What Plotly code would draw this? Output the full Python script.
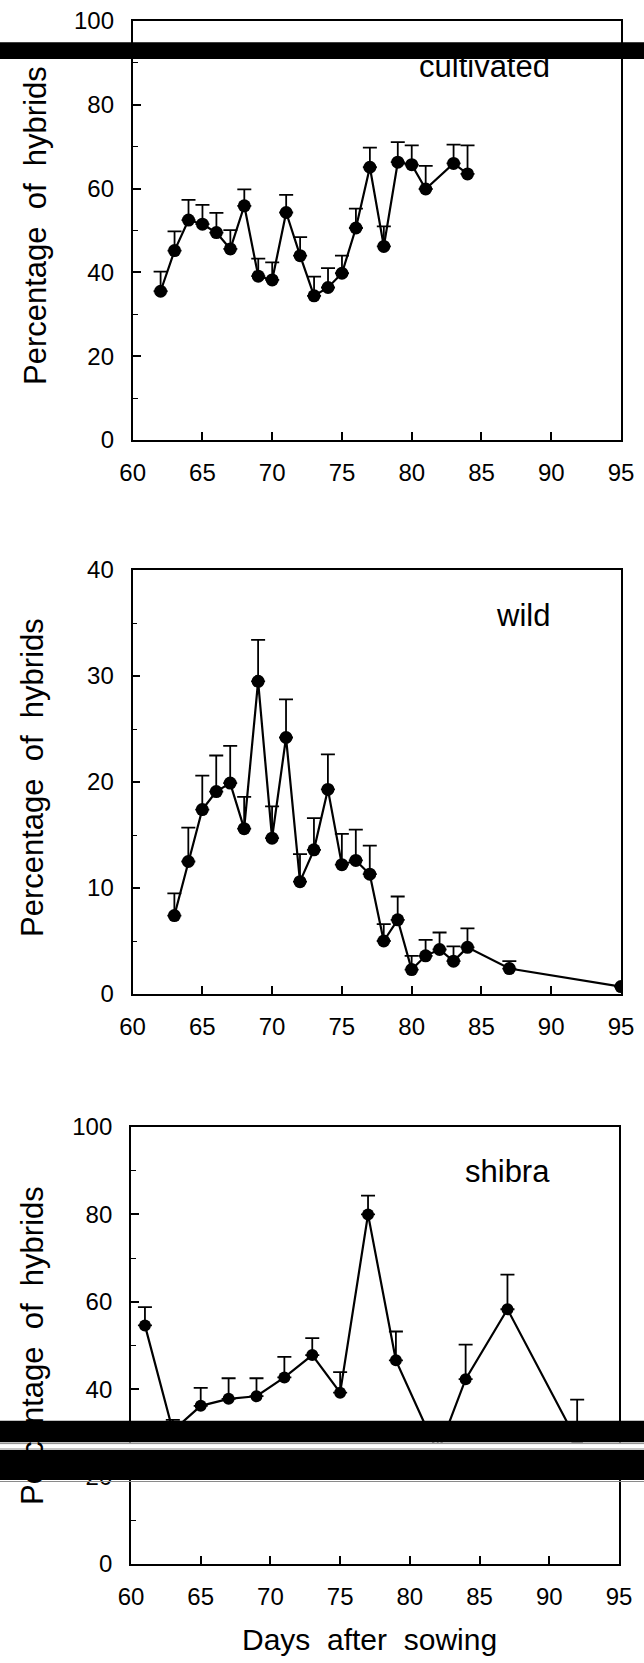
import plotly.graph_objects as go

W, H = 644, 1663

# ---------------- data ----------------
cult_days = [62, 63, 64, 65, 66, 67, 68, 69, 70, 71, 72, 73, 74, 75, 76, 77, 78, 79, 80, 81, 83, 84]
cult_mean = [35.5, 45.2, 52.5, 51.5, 49.5, 45.6, 55.9, 39.1, 38.2, 54.3, 44.0, 34.4, 36.4, 39.8, 50.6,
             65.1, 46.2, 66.3, 65.7, 59.9, 66.0, 63.5]
cult_top = [40.2, 49.8, 57.3, 56.1, 54.2, 50.1, 59.8, 43.3, 42.4, 58.5, 48.4, 39.0, 41.0, 44.0, 55.2,
            69.8, 51.0, 71.1, 70.3, 65.4, 70.5, 70.3]

wild_days = [63, 64, 65, 66, 67, 68, 69, 70, 71, 72, 73, 74, 75, 76, 77, 78, 79, 80, 81, 82, 83, 84, 87, 95]
wild_mean = [7.4, 12.5, 17.4, 19.1, 19.9, 15.6, 29.5, 14.7, 24.2, 10.6, 13.6, 19.3, 12.2, 12.6, 11.3,
             5.0, 7.0, 2.3, 3.6, 4.2, 3.1, 4.4, 2.4, 0.7]
wild_top = [9.5, 15.7, 20.6, 22.5, 23.4, 18.6, 33.4, 17.7, 27.8, 13.2, 16.6, 22.6, 15.1, 15.5, 14.0,
            6.6, 9.2, 3.6, 5.1, 5.8, 4.5, 6.2, 3.1, None]

shib_days = [61, 63, 65, 67, 69, 71, 73, 75, 77, 79, 82, 84, 87, 92]
shib_mean = [54.6, 30.5, 36.2, 37.8, 38.4, 42.7, 47.8, 39.2, 80.0, 46.6, 25.5, 42.3, 58.3, 28.1]
shib_top = [58.8, 33.0, 40.3, 42.5, 42.5, 47.4, 51.7, 43.9, 84.3, 53.2, 29.0, 50.2, 66.2, 37.6]

panel_names = ["cultivated", "wild", "shibra"]
x_ticks = [60, 65, 70, 75, 80, 85, 90, 95]
y_ticks_100 = [0, 20, 40, 60, 80, 100]
y_ticks_40 = [0, 10, 20, 30, 40]

FONT = "Liberation Sans, Arial, sans-serif"

# panel pixel boxes: (left, right, top, bottom)
boxes = [(132.7, 621, 21, 440), (132.5, 621, 570, 994), (131, 619, 1127, 1564)]


def px_x(v):
    return v / W


def px_y(v):
    return 1 - v / H


fig = go.Figure()

series = [(cult_days, cult_mean, cult_top), (wild_days, wild_mean, wild_top), (shib_days, shib_mean, shib_top)]
for i, (d, m, t) in enumerate(series):
    err = [None if tt is None else round(tt - mm, 2) for tt, mm in zip(t, m)]
    fig.add_trace(go.Scatter(
        x=d, y=m, mode="lines+markers",
        xaxis="x" + ("" if i == 0 else str(i + 1)),
        yaxis="y" + ("" if i == 0 else str(i + 1)),
        line=dict(color="black", width=2.2),
        marker=dict(color="black", size=13 if i < 2 else 12),
        error_y=dict(type="data", symmetric=False, array=err, arrayminus=[0] * len(err),
                     color="black", thickness=1.8, width=7),
        showlegend=False,
    ))

layout = dict(width=W, height=H, margin=dict(l=0, r=0, t=0, b=0, autoexpand=False),
              paper_bgcolor="white", plot_bgcolor="white", showlegend=False)

for i, (l, r, t, b) in enumerate(boxes):
    sfx = "" if i == 0 else str(i + 1)
    ymax = 40 if i == 1 else 100
    yt = y_ticks_40 if i == 1 else y_ticks_100
    layout["xaxis" + sfx] = dict(
        domain=[px_x(l), px_x(r)], range=[60, 95], anchor="y" + sfx,
        tickvals=x_ticks, ticktext=[str(v) for v in x_ticks],
        ticks="inside", ticklen=8, tickwidth=1.5, tickcolor="black",
        showline=True, linecolor="black", linewidth=1.8, mirror=True,
        showgrid=False, zeroline=False,
        tickfont=dict(family=FONT, size=24, color="black"),
        ticklabelstandoff=10,
    )
    layout["yaxis" + sfx] = dict(
        domain=[px_y(b), px_y(t)], range=[0, ymax], anchor="x" + sfx,
        tickvals=yt, ticktext=[str(v) for v in yt],
        ticks="inside", ticklen=8, tickwidth=1.5, tickcolor="black",
        minor=dict(dtick=5 if i == 1 else 10, ticks="inside", ticklen=5, tickwidth=1.2,
                   tickcolor="black", tick0=0),
        showline=True, linecolor="black", linewidth=1.8, mirror=True,
        showgrid=False, zeroline=False,
        tickfont=dict(family=FONT, size=24, color="black"),
        ticklabelstandoff=12,
    )

fig.update_layout(**layout)

annotations = []
label_y_px = [66.5, 615.5, 1171.5]
for i, name in enumerate(panel_names):
    annotations.append(dict(
        text=name, xref="paper", yref="paper", x=px_x(552), y=px_y(label_y_px[i]),
        xanchor="right", yanchor="middle", showarrow=False,
        font=dict(family=FONT, size=31, color="black")))

ytitle = "Percentage\u00a0\u00a0of\u00a0\u00a0hybrids"
title_pos = [(35, 226), (32, 778), (32, 1346)]
for (xx, yy) in title_pos:
    annotations.append(dict(
        text=ytitle, xref="paper", yref="paper", x=px_x(xx), y=px_y(yy),
        xanchor="center", yanchor="middle", textangle=-90, showarrow=False,
        font=dict(family=FONT, size=31, color="black")))

annotations.append(dict(
    text="Days\u00a0\u00a0after\u00a0\u00a0sowing", xref="paper", yref="paper",
    x=px_x(369), y=px_y(1639), xanchor="center", yanchor="middle", showarrow=False,
    font=dict(family=FONT, size=30, color="black")))

fig.update_layout(annotations=annotations)

# scan occlusion bars
shapes = []


def rect(y0, y1, color):
    return dict(type="rect", xref="paper", yref="paper", x0=0, x1=1,
                y0=px_y(y1), y1=px_y(y0), fillcolor=color, line=dict(width=0), layer="above")


def hline(y, color):
    return dict(type="line", xref="paper", yref="paper", x0=0, x1=1,
                y0=px_y(y), y1=px_y(y), line=dict(color=color, width=1), layer="above")


shapes.append(rect(42.3, 59.0, "black"))
shapes.append(rect(1420.7, 1442.6, "black"))
shapes.append(rect(1442.6, 1450.0, "white"))
shapes.append(hline(1443.6, "#8a8a8a"))
shapes.append(hline(1449.0, "#8a8a8a"))
shapes.append(rect(1450.0, 1480.0, "black"))
shapes.append(hline(1481.5, "#8a8a8a"))
fig.update_layout(shapes=shapes)

fig.write_html("out.html", config={"displayModeBar": False},
               post_script="document.body.style.margin='0';document.body.style.overflow='hidden';")
